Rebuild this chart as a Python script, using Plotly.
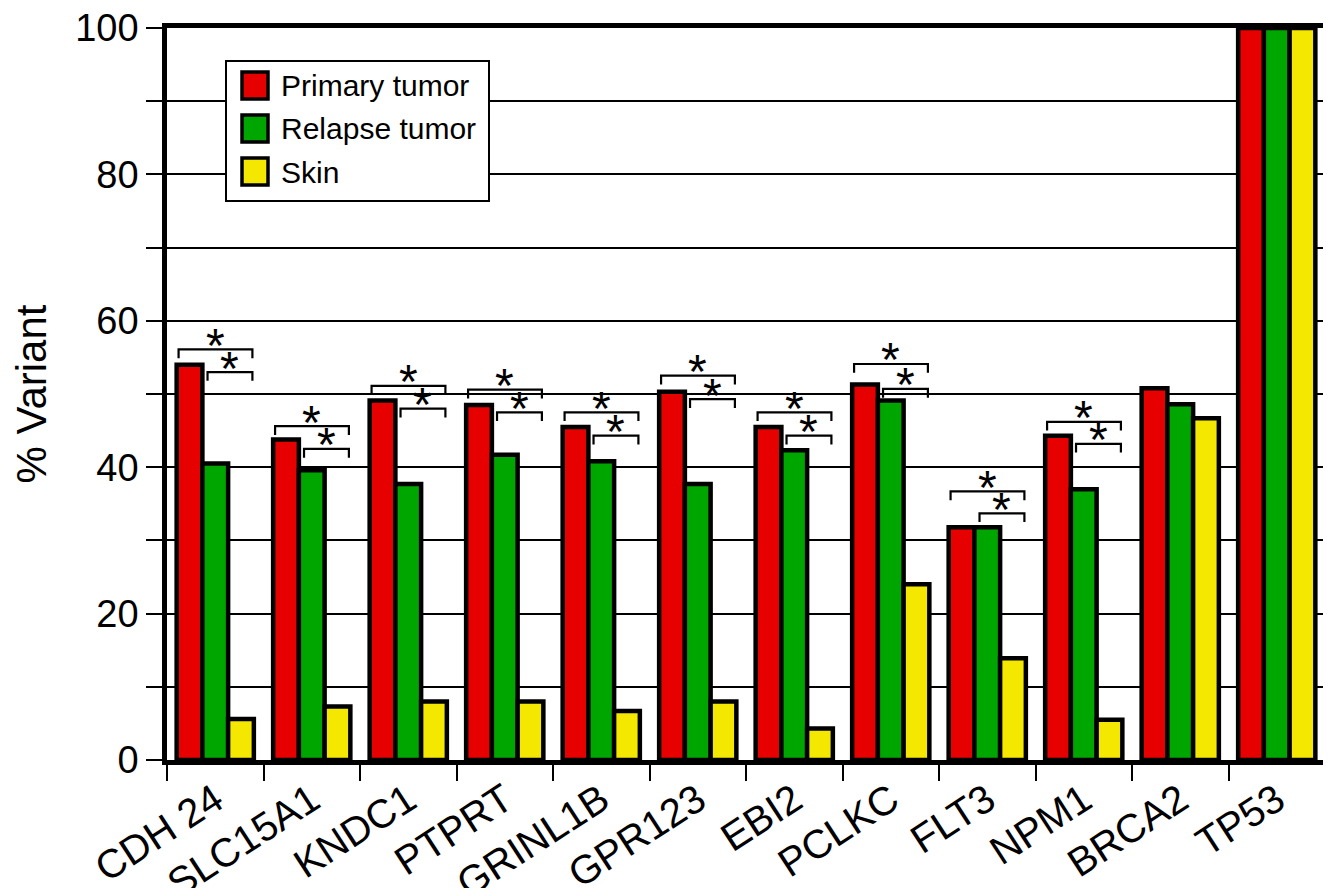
import plotly.graph_objects as go

genes = ["CDH 24", "SLC15A1", "KNDC1", "PTPRT", "GRINL1B", "GPR123",
         "EBI2", "PCLKC", "FLT3", "NPM1", "BRCA2", "TP53"]
primary = [54.0, 43.8, 49.1, 48.5, 45.5, 50.3, 45.5, 51.3, 31.8, 44.3, 50.8, 100]
relapse = [40.5, 39.6, 37.7, 41.7, 40.8, 37.7, 42.3, 49.1, 31.8, 37.0, 48.6, 100]
skin = [5.6, 7.3, 8.0, 8.0, 6.7, 8.0, 4.3, 24.0, 13.9, 5.5, 46.7, 100]
# significance bracket heights (outer: primary vs skin, inner: relapse vs skin)
outer_bracket = [56.1, 45.6, 51.1, 50.6, 47.5, 52.5, 47.5, 54.1, 36.7, 46.2, None, None]
inner_bracket = [53.0, 42.5, 48.0, 47.5, 44.3, 49.3, 44.3, 50.7, 33.7, 43.2, None, None]
yticks = [0, 10, 20, 30, 40, 50, 60, 70, 80, 90, 100]
yticklabels = ["0", "", "20", "", "40", "", "60", "", "80", "", "100"]

series = [("Primary tumor", primary, "#E60000"),
          ("Relapse tumor", relapse, "#00A600"),
          ("Skin", skin, "#F5E800")]

FONT = "Liberation Sans, Arial, sans-serif"

fig = go.Figure()
for name, vals, col in series:
    fig.add_trace(go.Bar(x=genes, y=vals, name=name, showlegend=False,
                         marker=dict(color=col, line=dict(color="black", width=4.5)),
                         cliponaxis=False))

shapes = []
annotations = []
leg = 1.2
for i, (yo, yi) in enumerate(zip(outer_bracket, inner_bracket)):
    if yo is None:
        continue
    for (x0, x1, yy) in [(-0.38, 0.385, yo), (-0.08, 0.385, yi)]:
        path = (f"M {i + x0},{yy - leg} L {i + x0},{yy} "
                f"L {i + x1},{yy} L {i + x1},{yy - leg}")
        shapes.append(dict(type="path", xref="x", yref="y", path=path,
                           line=dict(color="black", width=2.2)))
        annotations.append(dict(x=i + (x0 + x1) / 2, y=yy, xref="x", yref="y",
                                text="*", showarrow=False, yanchor="middle",
                                yshift=4, font=dict(family=FONT, size=48, color="black")))

# legend box drawn in paper coordinates (page pixel -> paper fraction)
def px(x):
    return (x - 167) / 1158

def py(y):
    return (760 - y) / 732

shapes.append(dict(type="rect", xref="paper", yref="paper",
                   x0=px(226), x1=px(489), y0=py(201), y1=py(61),
                   fillcolor="white", line=dict(color="black", width=2), layer="above"))
for k, (name, vals, col) in enumerate(series):
    top = 72 + k * 43
    shapes.append(dict(type="rect", xref="paper", yref="paper",
                       x0=px(242), x1=px(268), y0=py(top + 27), y1=py(top),
                       fillcolor=col, line=dict(color="black", width=3.5), layer="above"))
    annotations.append(dict(x=px(279), y=py(top + 14), xref="paper", yref="paper",
                            text=name, showarrow=False, xanchor="left", yanchor="middle",
                            font=dict(family=FONT, size=30, color="black")))

fig.update_layout(
    width=1323, height=880,
    margin=dict(l=159, r=6, t=20, b=128),
    paper_bgcolor="white", plot_bgcolor="white",
    barmode="group", bargap=0.2, bargroupgap=0,
    shapes=shapes, annotations=annotations,
    font=dict(family=FONT, color="black"),
)
fig.update_xaxes(
    type="category", tickson="boundaries", ticks="outside", ticklen=16,
    tickwidth=2, tickcolor="black", tickangle=-33, automargin=False,
    ticklabelstandoff=-4, ticklabeloverflow="allow",
    tickfont=dict(family=FONT, size=40, color="black"),
    showline=True, linecolor="black", linewidth=4.5, mirror=True,
    showgrid=False, range=[-0.5, 11.5],
)
fig.update_yaxes(
    range=[0, 100], tickvals=yticks, ticktext=yticklabels, automargin=False,
    ticklabeloverflow="allow",
    ticks="outside", ticklen=16, tickwidth=2, tickcolor="black",
    tickfont=dict(family=FONT, size=38, color="black"),
    showline=True, linecolor="black", linewidth=4.5, mirror=True,
    showgrid=True, gridcolor="black", gridwidth=2, zeroline=False,
    title=dict(text="% Variant", font=dict(family=FONT, size=42, color="black"), standoff=18),
)

fig.write_html("out.html")
